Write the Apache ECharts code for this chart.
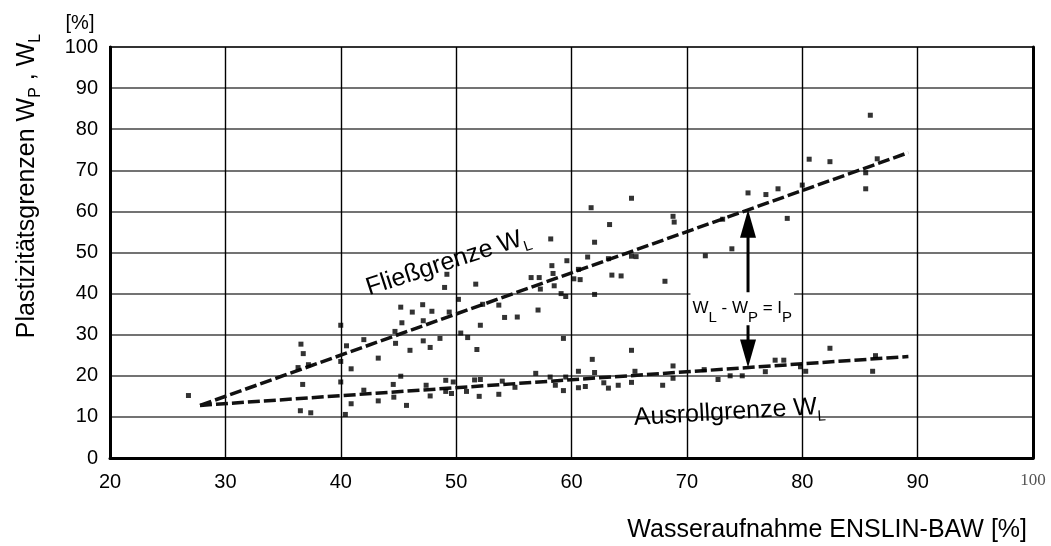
<!DOCTYPE html>
<html>
<head>
<meta charset="utf-8">
<script src="https://cdn.jsdelivr.net/npm/echarts@6/dist/echarts.min.js"></script>
<style>
  html, body { margin: 0; padding: 0; background: #fff; }
  #chart { width: 1051px; height: 546px; }
</style>
</head>
<body>
<div id="chart"></div>
<script>
// Liquid limit W_L samples [water absorption %, W_L %]
const fliessPoints = [
  [36.55, 27.7], [36.75, 25.4], [36.3, 22.0], [37.2, 22.7],
  [40.0, 32.3], [40.5, 27.3], [40.0, 23.5], [40.9, 21.7],
  [42.0, 28.8], [43.25, 24.3], [45.2, 36.7], [46.2, 35.5],
  [45.3, 32.9], [44.7, 30.8], [44.75, 27.9], [46.0, 26.2],
  [47.1, 37.3], [47.9, 35.7], [49.0, 41.5], [49.2, 44.7],
  [49.4, 35.5], [50.2, 38.6], [51.7, 42.3], [52.3, 37.4],
  [53.7, 37.2], [54.2, 34.2], [55.3, 34.3], [57.1, 36.0],
  [56.5, 43.9], [57.2, 43.9], [57.3, 41.1], [58.2, 53.3],
  [58.3, 46.8], [58.4, 44.9], [58.5, 41.9], [59.1, 40.0],
  [59.5, 39.3], [59.6, 48.0], [60.2, 43.6], [60.75, 43.4],
  [60.6, 45.9], [61.4, 48.9], [61.7, 60.9], [62.0, 52.5],
  [62.0, 39.8], [63.3, 56.8], [63.2, 48.5], [63.5, 44.5],
  [64.3, 44.3], [65.2, 63.2], [65.2, 49.1], [65.6, 49.0],
  [47.15, 33.4], [47.15, 28.5], [47.75, 26.9], [48.6, 29.1],
  [50.4, 30.4], [51.0, 29.3], [52.1, 32.3], [51.8, 26.4],
  [59.3, 29.1], [65.2, 26.2], [68.1, 43.0],
  [68.8, 58.8], [68.9, 57.4], [71.6, 49.2], [73.1, 58.1],
  [73.9, 50.9], [75.3, 64.5], [76.85, 64.1], [77.9, 65.5],
  [78.7, 58.3], [80.0, 66.4], [80.6, 72.7], [82.4, 72.1],
  [85.5, 69.4], [85.5, 65.5], [86.5, 72.8], [85.9, 83.4]
];

// Plastic limit W_P samples [water absorption %, W_P %]
const ausrollPoints = [
  [26.8, 15.2], [36.7, 17.9], [36.5, 11.5], [37.4, 11.0],
  [40.0, 18.5], [40.9, 13.2], [40.4, 10.6], [42.0, 16.5],
  [43.25, 13.9], [45.2, 19.9], [44.55, 17.9], [44.6, 14.8],
  [45.7, 12.8], [61.8, 24.0], [47.4, 17.7], [47.75, 15.1],
  [49.1, 18.9], [49.1, 16.2], [49.6, 15.7], [49.75, 18.5],
  [50.9, 16.2], [51.6, 19.0], [52.1, 19.1], [52.0, 15.0],
  [53.7, 15.5], [54.0, 18.7], [55.1, 17.2], [56.9, 20.6],
  [58.15, 19.7], [58.6, 17.7], [59.3, 16.4], [59.5, 19.7],
  [60.6, 21.1], [60.6, 17.1], [61.2, 17.4], [62.0, 20.8],
  [62.8, 18.3], [63.2, 17.0], [64.05, 17.7], [65.2, 18.4],
  [65.5, 21.1], [68.8, 22.4], [68.8, 19.4], [67.9, 17.7],
  [71.5, 21.5], [72.7, 19.1], [73.75, 20.0], [74.8, 20.0],
  [76.8, 21.0], [77.65, 23.8], [78.4, 23.8], [79.85, 22.2],
  [80.3, 21.1], [82.4, 26.7], [86.35, 24.9], [86.1, 21.1]
];

// Fitted trend lines (start, end)
const fliessTrend = [[27.8, 12.8], [89.2, 74.3]];
const ausrollTrend = [[27.8, 12.8], [89.2, 24.7]];

// Water absorption at which the plasticity index I_P is marked
const ipAt = 75.3;

const xTickValues = [20, 30, 40, 50, 60, 70, 80, 90, 100];
const yTickValues = [0, 10, 20, 30, 40, 50, 60, 70, 80, 90, 100];

const SANS = '"Liberation Sans", Arial, Helvetica, sans-serif';
const SERIF = '"Liberation Serif", "Times New Roman", serif';

function trendAt(line, x) {
  const [a, b] = line;
  return a[1] + (b[1] - a[1]) * (x - a[0]) / (b[0] - a[0]);
}

// rich styles: main text plus a lowered, smaller subscript
function subRich(main, small, pad) {
  return {
    m: { fontSize: main, fontFamily: SANS, color: '#000' },
    s: { fontSize: small, fontFamily: SANS, color: '#000', padding: [pad, 0, 0, 0] }
  };
}

const chart = echarts.init(document.getElementById('chart'), null, { renderer: 'canvas' });

const yRange = { min: yTickValues[0], max: yTickValues[yTickValues.length - 1], interval: 10 };

const option = {
  animation: false,
  backgroundColor: '#fff',
  grid: {
    left: 110, right: 18, top: 47, bottom: 88,
    show: true, borderColor: '#000', borderWidth: 2, backgroundColor: 'transparent'
  },
  xAxis: {
    type: 'value',
    min: xTickValues[0], max: xTickValues[xTickValues.length - 1], interval: 10,
    axisLine: { show: true, onZero: false, lineStyle: { color: '#000', width: 3 } },
    axisTick: { show: false },
    axisLabel: {
      margin: 14, color: '#000', fontSize: 20, fontFamily: SANS,
      formatter: v => (v === 100 ? '{serif|' + v + '}' : String(v)),
      rich: { serif: { fontFamily: SERIF, fontSize: 17, color: '#555' } }
    },
    splitLine: { show: true, lineStyle: { color: '#000', width: 1.4 } }
  },
  yAxis: [
    {
      type: 'value', ...yRange,
      axisLine: { show: true, onZero: false, lineStyle: { color: '#000', width: 3 } },
      axisTick: { show: false },
      axisLabel: { margin: 12, color: '#000', fontSize: 20, fontFamily: SANS },
      splitLine: { show: true, lineStyle: { color: '#444', width: 1.6 } }
    },
    {
      // right frame edge
      type: 'value', position: 'right', ...yRange,
      axisLine: { show: true, onZero: false, lineStyle: { color: '#000', width: 3 } },
      axisTick: { show: false }, axisLabel: { show: false }, splitLine: { show: false }
    }
  ],
  graphic: [
    {
      type: 'text', x: 27, y: 186, rotation: Math.PI / 2,
      style: {
        text: '{m|Plastizitätsgrenzen W}{s|P}{m| , W}{s|L}',
        rich: subRich(25, 16, 18),
        align: 'center', verticalAlign: 'middle'
      }
    },
    {
      type: 'text', x: 80, y: 23,
      style: { text: '[%]', fontSize: 20, fontFamily: SANS, fill: '#000', align: 'center', verticalAlign: 'middle' }
    },
    {
      type: 'text', x: 1027, y: 530,
      style: { text: 'Wasseraufnahme ENSLIN-BAW [%]', fontSize: 25, fontFamily: SANS, fill: '#000', align: 'right', verticalAlign: 'middle' }
    }
  ],
  series: [
    {
      name: 'Fließgrenze Trend', type: 'line', data: fliessTrend,
      symbol: 'none', z: 3, silent: true,
      lineStyle: { color: '#111', width: 3.5, type: [12, 4] }
    },
    {
      name: 'Ausrollgrenze Trend', type: 'line', data: ausrollTrend,
      symbol: 'none', z: 3, silent: true,
      lineStyle: { color: '#111', width: 3.5, type: [12, 4] }
    },
    {
      name: 'Fließgrenze', type: 'scatter', data: fliessPoints,
      symbol: 'rect', symbolSize: 5, z: 4,
      itemStyle: { color: '#000' }
    },
    {
      name: 'Ausrollgrenze', type: 'scatter', data: ausrollPoints,
      symbol: 'rect', symbolSize: 5, z: 4,
      itemStyle: { color: '#000' }
    },
    {
      // double arrow between both trend lines plus the annotations
      name: 'Annotation', type: 'custom', z: 10, silent: true,
      data: [[ipAt, trendAt(ausrollTrend, ipAt), trendAt(fliessTrend, ipAt)]],
      renderItem: (params, api) => {
        const x = api.value(0);
        const bot = api.coord([x, api.value(1)]);
        const top = api.coord([x, api.value(2)]);
        const hw = 8, hh = 28;
        const ipLabel = api.coord([74.8, 36.3]);
        const fliessLabel = api.coord([49.3, 47.6]);
        const ausrollLabel = api.coord([73.7, 11.1]);
        return {
          type: 'group',
          children: [
            { type: 'line', shape: { x1: top[0], y1: top[1] + hh - 2, x2: bot[0], y2: bot[1] - hh + 2 },
              style: { stroke: '#000', lineWidth: 3 } },
            { type: 'polygon', shape: { points: [[top[0], top[1]], [top[0] - hw, top[1] + hh], [top[0] + hw, top[1] + hh]] },
              style: { fill: '#000' } },
            { type: 'polygon', shape: { points: [[bot[0], bot[1]], [bot[0] - hw, bot[1] - hh], [bot[0] + hw, bot[1] - hh]] },
              style: { fill: '#000' } },
            { type: 'text', x: ipLabel[0], y: ipLabel[1],
              style: {
                text: '{m|W}{s|L}{m| - W}{s|P}{m| = I}{s|P}',
                rich: subRich(17, 15, 18),
                align: 'center', verticalAlign: 'middle',
                backgroundColor: '#fff', padding: [0, 2]
              } },
            { type: 'text', x: fliessLabel[0], y: fliessLabel[1], rotation: 18 * Math.PI / 180,
              style: {
                text: '{m|Fließgrenze W}{s|L}',
                rich: subRich(25, 15, 19),
                align: 'center', verticalAlign: 'middle'
              } },
            { type: 'text', x: ausrollLabel[0], y: ausrollLabel[1], rotation: 3.4 * Math.PI / 180,
              style: {
                text: '{m|Ausrollgrenze W}{s|L}',
                rich: subRich(25, 15, 19),
                align: 'center', verticalAlign: 'middle'
              } }
          ]
        };
      }
    }
  ]
};

chart.setOption(option);
</script>
</body>
</html>
